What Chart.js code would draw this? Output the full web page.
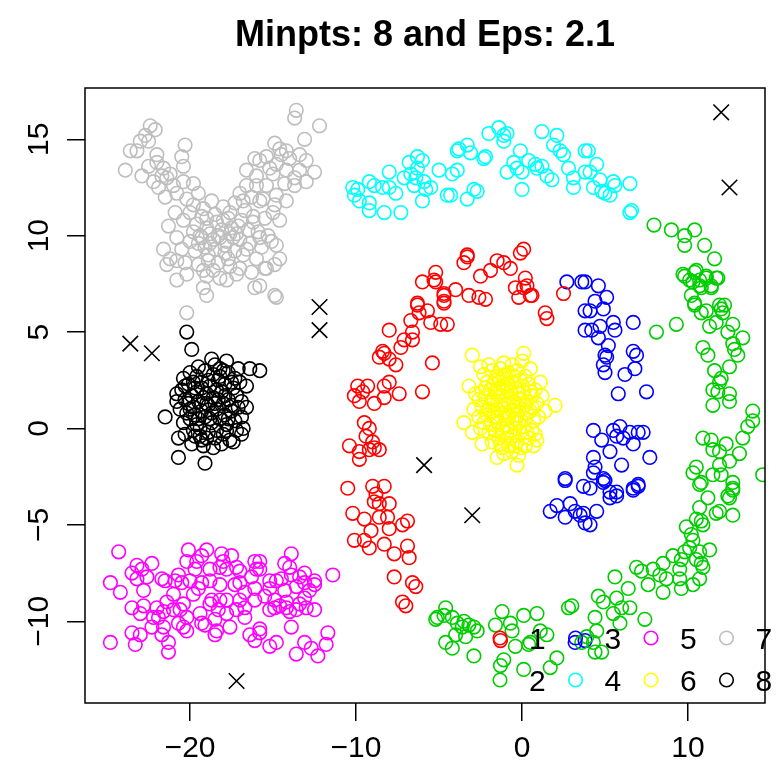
<!DOCTYPE html>
<html>
<head>
<meta charset="utf-8">
<script src="https://cdn.jsdelivr.net/npm/chart.js@4.4.1/dist/chart.umd.min.js"></script>
<style>
  html, body { margin: 0; padding: 0; background: #fff; }
  #wrap { width: 780px; height: 778px; }
</style>
</head>
<body>
<div id="wrap"><canvas id="Chart_0" width="780" height="778"></canvas></div>
<script>
"use strict";

// ---- data ----
const titleText = 'Minpts: 8 and Eps: 2.1';
const clusterNames = ['1', '2', '3', '4', '5', '6', '7', '8'];
const clusterColors = ['#FF0000', '#00CD00', '#0000FF', '#00FFFF', '#FF00FF', '#FFFF00', '#BEBEBE', '#000000'];
const xTicks = [-20, -10, 0, 10];
const xTickLabels = ['\u221220', '\u221210', '0', '10'];
const yTicks = [-10, -5, 0, 5, 10, 15];
const yTickLabels = ['\u221210', '\u22125', '0', '5', '10', '15'];

// noise points (cluster 0), drawn as crosses
const noise = [[12.0,16.4],[12.5,12.5],[-12.2,6.3],[-12.2,5.1],[-23.6,4.4],[-22.3,3.9],[-5.9,-1.9],[-3.0,-4.5],[-17.2,-13.1]];

// cluster 1 - red arc
const c1 = [[-3.3,9.0],[-3.5,8.6],[-1.5,8.7],[-1.1,8.6],[-0.7,8.3],[0.1,9.3],[-0.1,9.1],[-1.9,8.2],[-2.5,7.9],[-5.2,8.1],
  [-5.3,7.7],[-6.0,7.6],[0.2,7.8],[0.3,7.4],[-0.4,7.3],[0.5,6.9],[-3.2,6.9],[-2.6,6.8],[-2.2,6.7],[-4.7,7.0],
  [-4.7,6.6],[-6.3,6.5],[2.5,7.0],[-3.3,8.9],[-0.2,6.8],[0.6,6.9],[0.1,7.3],[1.4,6.0],[1.5,5.7],[-5.2,7.6],
  [-4.7,6.9],[-4.7,6.5],[-6.3,6.4],[-5.7,6.1],[-6.2,6.0],[-6.7,5.6],[-5.5,5.5],[-4.9,5.4],[-4.5,5.4],[-8.0,5.1],
  [-6.6,5.0],[-7.1,4.6],[-6.6,4.6],[-7.3,4.2],[-8.3,3.9],[-8.6,3.7],[-8.0,3.6],[-5.4,3.4],[-9.9,2.2],[-9.3,2.2],
  [-10.1,1.7],[-9.8,1.4],[-8.9,1.3],[-8.3,2.2],[-8.0,2.4],[-8.3,1.6],[-7.4,1.8],[-6.0,1.9],[-9.5,0.3],[-9.2,0.0],
  [-10.4,-0.9],[-9.8,-1.2],[-9.8,-1.6],[-9.0,-0.7],[-8.9,-1.0],[-8.6,-1.1],[-9.2,-1.1],[-10.5,-3.1],[-9.0,-3.0],[-8.3,-3.0],
  [-8.9,-3.8],[-8.6,-3.9],[-8.0,-3.9],[-10.2,-4.4],[-9.5,-4.7],[-8.6,-4.6],[-8.1,-4.6],[-8.0,-5.2],[-6.9,-4.8],[-7.2,-5.0],
  [-10.1,-5.8],[-9.5,-5.8],[-9.2,-6.2],[-8.3,-6.0],[-7.7,-6.5],[-6.9,-6.1],[-6.8,-6.7],[-7.7,-7.7],[-6.6,-8.0],[-6.4,-8.2],
  [-7.2,-9.0],[-7.0,-9.2],[-1.3,-11.0],[-8.4,4.0],[-7.6,3.3],[-9.6,1.9],[-9.4,-0.4],[-8.8,-3.4],[-9.1,-5.3],[-4.0,7.2]];

// cluster 2 - green outer arc
const c2 = [[7.95,10.55],[9.0,10.3],[9.8,10.0],[10.4,10.3],[9.8,9.5],[11.0,9.5],[9.8,7.9],[10.5,8.2],[10.1,7.7],[10.7,7.7],
  [11.1,7.8],[11.7,7.8],[11.4,7.4],[10.8,7.3],[10.4,6.5],[11.9,6.4],[12.2,6.4],[9.7,8.0],[10.4,8.1],[11.1,7.9],
  [11.8,7.8],[10.3,7.6],[10.7,7.4],[11.4,7.3],[10.4,6.4],[10.8,6.0],[11.1,6.1],[12.0,6.2],[12.1,6.0],[11.3,5.3],
  [11.7,5.5],[12.7,5.4],[13.3,4.7],[12.7,4.4],[12.8,4.1],[10.9,4.2],[11.2,3.8],[9.3,5.4],[8.1,5.0],[13.0,3.8],
  [12.5,3.2],[12.0,2.6],[11.9,2.4],[11.5,2.0],[11.8,1.9],[12.5,1.8],[12.5,1.4],[11.5,1.2],[13.9,0.9],[13.9,0.4],
  [13.6,0.1],[13.3,-0.5],[10.9,-0.5],[11.4,-0.6],[12.3,-0.8],[11.5,-1.1],[11.9,-1.2],[12.5,-1.7],[11.9,-1.9],[10.5,-2.0],
  [10.3,-2.3],[10.8,-2.8],[11.5,-2.4],[12.0,-2.4],[12.7,-2.8],[12.7,-3.2],[12.4,-3.5],[14.5,-2.4],[10.7,-2.9],[12.7,-3.1],
  [12.5,-3.6],[11.9,-4.3],[12.7,-4.5],[11.7,-4.4],[10.7,-4.1],[10.8,-4.8],[10.5,-4.7],[10.9,-5.0],[10.2,-5.5],[10.3,-5.8],
  [11.3,-6.3],[10.1,-6.2],[9.8,-6.4],[10.7,-6.4],[9.6,-6.8],[10.5,-6.8],[10.8,-7.0],[10.9,-7.2],[8.5,-7.0],[9.5,-7.3],
  [9.5,-7.8],[10.7,-7.8],[10.3,-8.1],[9.6,-8.3],[7.9,-7.3],[8.3,-7.6],[8.7,-7.8],[6.9,-7.2],[7.2,-7.4],[7.6,-8.1],
  [8.5,-8.5],[5.6,-7.7],[4.6,-8.7],[4.9,-9.0],[5.7,-8.8],[6.0,-9.3],[6.5,-9.3],[5.5,-9.6],[4.4,-9.8],[5.9,-10.1],
  [7.4,-9.9],[4.5,-10.5],[3.9,-10.8],[4.3,-11.1],[4.4,-11.6],[4.8,-11.6],[-4.6,-9.3],[-5.1,-9.8],[-5.2,-9.9],[-4.7,-9.7],
  [-4.2,-9.8],[-3.9,-10.1],[-3.6,-10.3],[-3.5,-10.0],[-3.2,-10.2],[-2.9,-10.3],[-2.7,-10.5],[-3.4,-10.8],[-4.6,-11.1],[-4.2,-11.4],
  [-2.9,-11.8],[-1.2,-9.5],[-1.6,-10.2],[-0.7,-10.1],[-0.6,-10.5],[0.1,-9.7],[0.9,-9.6],[-0.4,-11.3],[0.4,-11.2],[-1.1,-12.0],
  [0.1,-12.5],[1.1,-10.5],[1.5,-10.7],[1.7,-12.4],[2.1,-11.9],[2.8,-9.3],[3.0,-9.2],[3.6,-11.1],[0.5,-11.1],[-1.3,-12.3],
  [11.6,8.8],[10.2,6.9],[12.4,5.0],[11.6,3.0],[13.1,-1.3],[11.2,-3.6],[9.9,-5.1],[9.1,-6.6],[6.4,-8.3],[-4.0,-10.7]];

// cluster 3 - blue inner arc
const c3 = [[2.7,7.6],[3.6,7.6],[3.8,6.1],[3.8,5.1],[2.6,-2.6],[3.8,7.6],[4.6,7.4],[5.1,6.8],[4.1,6.1],[4.9,6.2],
  [4.2,5.1],[4.7,5.3],[5.5,5.5],[5.6,5.1],[4.6,4.7],[6.7,5.5],[5.0,3.8],[5.1,3.7],[4.9,3.3],[5.0,2.9],
  [6.7,4.0],[6.9,3.8],[6.8,3.1],[6.2,2.8],[5.8,1.8],[7.5,1.9],[4.3,-0.1],[5.5,-0.1],[5.7,-0.4],[6.1,-0.5],
  [6.5,-0.2],[7.0,-0.2],[7.3,-0.2],[6.7,-0.8],[5.3,-1.2],[4.3,-1.5],[6.0,-1.9],[7.7,-1.5],[4.3,-2.3],[4.9,-2.6],
  [5.0,-2.7],[4.1,-3.1],[5.3,-3.3],[5.7,-3.3],[6.7,-3.1],[7.0,-2.9],[4.9,-2.8],[5.3,-3.6],[5.7,-3.5],[6.7,-3.2],
  [7.0,-3.0],[4.5,-4.3],[4.1,-5.0],[3.7,-4.4],[1.7,-4.3],[2.1,-4.0],[2.6,-4.6],[2.9,-3.9],[3.2,-4.3],[3.5,-4.5],
  [3.8,-4.9],[2.6,-2.7],[3.2,-11.1],[3.7,-3.0],[3.8,-11.0],[4.4,-2.0],[4.8,-0.6],[5.9,0.1],[5.2,4.3],[4.4,6.6]];

// cluster 4 - cyan top arc
const c4 = [[-10.1,12.1],[-10.2,12.5],[-9.9,12.4],[-9.8,11.8],[-9.2,12.8],[-9.2,11.7],[-9.2,11.3],[-8.3,11.2],[-7.3,11.2],[-8.9,12.6],
  [-8.4,12.5],[-8.0,12.5],[-8.0,13.3],[-7.1,13.0],[-6.8,13.8],[-6.3,14.1],[-6.0,13.9],[-6.3,13.5],[-6.4,13.0],[-6.5,12.6],
  [-5.9,12.8],[-5.5,12.5],[-5.8,12.4],[-6.0,11.8],[-5.0,13.4],[-4.2,13.2],[-3.9,13.4],[-4.5,12.1],[-4.3,12.1],[-3.3,11.9],
  [-2.9,12.4],[-2.7,12.3],[-3.9,14.4],[-3.8,14.5],[-3.3,14.7],[-3.1,14.3],[-2.2,14.1],[-2.3,14.0],[-2.0,15.3],[-1.4,15.6],
  [-1.1,14.9],[-0.9,15.3],[-1.1,15.2],[-0.1,14.4],[-0.5,13.8],[-0.3,13.5],[-0.9,13.3],[0.0,13.3],[0.0,12.4],[0.4,13.9],
  [0.8,13.7],[0.9,13.5],[1.2,13.6],[1.5,13.1],[1.8,12.9],[1.2,15.4],[2.1,15.2],[1.9,14.7],[2.3,14.4],[2.5,14.2],
  [2.8,13.5],[3.1,13.0],[3.1,12.5],[3.8,14.4],[3.8,13.3],[4.0,14.4],[4.5,13.7],[4.1,13.3],[4.7,12.9],[4.3,12.5],
  [4.8,12.3],[5.3,12.1],[5.5,12.8],[5.6,12.6],[6.5,12.7],[6.6,11.3],[6.5,11.2],[5.0,12.2],[-7.6,12.2],[-6.7,13.2]];

// cluster 5 - magenta band
const c5 = [[-24.3,-6.4],[-24.8,-8.0],[-24.2,-8.5],[-24.8,-11.1],[-23.5,-7.5],[-23.2,-7.1],[-22.9,-7.3],[-22.3,-7.0],[-22.6,-7.7],[-23.2,-7.8],
  [-23.5,-9.3],[-22.8,-9.2],[-23.0,-9.6],[-22.0,-9.3],[-21.4,-9.0],[-21.6,-9.5],[-22.2,-9.8],[-22.3,-10.3],[-21.6,-10.3],[-21.7,-10.7],
  [-23.5,-10.6],[-23.3,-11.2],[-23.0,-10.7],[-21.3,-11.1],[-21.3,-11.6],[-21.5,-7.9],[-20.7,-7.6],[-20.5,-8.0],[-20.1,-6.3],[-20.2,-6.9],
  [-19.6,-6.9],[-19.3,-6.6],[-19.7,-7.3],[-20.0,-7.9],[-19.3,-8.0],[-19.8,-8.6],[-20.4,-9.1],[-20.6,-9.4],[-20.2,-9.8],[-20.4,-10.3],
  [-20.2,-10.5],[-19.4,-9.6],[-19.3,-10.1],[-18.8,-9.1],[-18.8,-7.3],[-18.2,-8.1],[-18.7,-8.9],[-18.5,-9.9],[-18.4,-10.5],[-18.5,-10.7],
  [-18.1,-6.5],[-18.0,-6.9],[-18.2,-7.2],[-17.8,-7.3],[-17.2,-7.2],[-17.3,-8.1],[-17.0,-8.0],[-16.7,-8.5],[-18.2,-8.9],[-17.8,-9.6],
  [-17.6,-10.3],[-16.7,-9.3],[-16.7,-9.8],[-16.3,-7.7],[-15.8,-6.9],[-15.8,-7.3],[-16.1,-8.3],[-16.1,-8.9],[-16.4,-10.7],[-15.8,-10.4],
  [-15.2,-11.3],[-14.8,-11.1],[-15.2,-8.3],[-14.9,-8.9],[-14.9,-9.3],[-14.6,-9.2],[-14.8,-7.9],[-14.3,-8.4],[-14.3,-7.0],[-14.0,-7.2],
  [-13.9,-6.5],[-13.9,-7.6],[-13.4,-7.7],[-13.1,-7.5],[-13.6,-8.2],[-13.1,-8.8],[-13.0,-9.3],[-12.5,-9.4],[-13.6,-9.4],[-14.0,-9.5],
  [-13.4,-9.1],[-12.5,-7.9],[-12.5,-8.1],[-11.4,-7.6],[-13.9,-10.3],[-13.1,-11.1],[-13.6,-11.7],[-12.7,-11.4],[-12.3,-11.8],[-11.7,-10.6],
  [-11.8,-11.2],[-18.8,-7.9],[-19.5,-8.3],[-18.3,-9.4],[-17.8,-8.9],[-17.2,-9.4],[-17.0,-8.9],[-16.0,-7.3],[-15.5,-8.7],[-15.2,-9.4],
  [-14.2,-9.3],[-20.7,-10.1],[-21.0,-9.4],[-21.9,-9.8],[-21.7,-7.8],[-20.9,-7.9],[-19.1,-10.2],[-16.1,-11.0],[-15.8,-10.6],[-16.1,-6.9],
  [-17.0,-7.4],[-15.2,-7.9],[-14.5,-7.8],[-14.2,-9.0],[-13.1,-8.0],[-12.8,-8.4],[-19.0,-6.3],[-17.5,-6.6],[-22.8,-8.4],[-21.0,-8.6]];

// cluster 6 - yellow blob
const c6 = [[-3.0,3.8],[0.1,3.9],[-2.5,3.2],[2.0,1.2],[-3.5,0.3],[-3.0,-0.2],[-0.3,-1.9],[1.1,2.4],[0.9,-0.6],[0.7,-0.9],
  [-2.9,1.0],[-2.4,-0.8],[-1.5,-1.5],
  [-2.3,2.8],[-1.8,3.0],[-1.3,3.1],[-0.8,2.9],[-0.3,3.0],[0.2,2.7],[-2.1,2.4],[-1.6,2.5],[-1.1,2.6],[-0.6,2.4],
  [-0.1,2.5],[0.4,2.3],[0.8,2.0],[-2.4,1.9],[-1.9,2.0],[-1.4,2.1],[-0.9,2.0],[-0.4,2.1],[0.1,1.9],[0.6,1.7],
  [-2.6,1.5],[-2.2,1.6],[-1.7,1.5],[-1.2,1.7],[-0.7,1.6],[-0.2,1.5],[0.3,1.4],[0.9,1.3],[-2.4,1.1],[-1.9,1.2],
  [-1.5,1.0],[-1.0,1.2],[-0.5,1.1],[0.0,1.0],[0.5,0.9],[-2.1,0.7],[-1.7,0.6],[-1.2,0.8],[-0.8,0.6],[-0.3,0.7],
  [0.2,0.5],[0.7,0.4],[-2.3,0.3],[-1.9,0.2],[-1.4,0.3],[-0.9,0.1],[-0.4,0.3],[0.1,0.1],[0.6,-0.1],[-2.0,-0.2],
  [-1.6,-0.3],[-1.1,-0.2],[-0.6,-0.4],[-0.1,-0.2],[0.4,-0.5],[-1.8,-0.7],[-1.3,-0.8],[-0.8,-0.9],[-0.3,-0.7],[0.2,-0.9],
  [-1.1,-1.3],[-0.6,-1.2],[-0.2,-1.4],[-1.0,0.5],[-0.6,0.9],[-1.3,1.4],[-0.2,1.8],[-0.9,2.3],[-1.6,1.9],[-0.4,0.0],
  [-1.4,-0.5],[-0.7,-0.1],[-1.1,2.2],[-0.5,1.4],[0.3,0.8],[-1.8,0.9],[-2.6,0.6],[-2.8,1.8],[1.0,0.6],[1.2,1.7],
  [-0.1,-1.0],[-1.5,2.7],[-0.6,3.3],[0.5,3.1],[-2.0,3.3],[0.8,-0.3],
  [-1.8,1.4],[-1.3,1.9],[-0.8,1.3],[-0.3,1.2],[0.2,1.2],[-1.5,0.6],[-0.9,0.7],[-0.4,0.5],[-1.2,0.0],[-0.2,0.3],
  [-1.7,2.3],[-1.0,2.8],[-0.5,2.7],[0.0,2.2],[0.5,1.9],[-2.0,1.0],[-1.6,-0.1],[-0.9,-0.5],[-0.4,-0.9],[0.3,-0.2],
  [-2.2,2.1],[-1.4,2.6],[-0.7,1.9],[0.6,1.1],[-1.2,-1.0],[-2.5,0.0],[1.4,0.9],[-3.2,2.2],[0.0,3.5],[-1.1,3.4]];

// cluster 7 - grey X shape
const c7 = [[-22.4,15.7],[-22.7,15.2],[-23.0,14.9],[-23.2,14.4],[-23.6,14.4],[-23.9,13.4],[-22.9,13.1],[-22.5,13.6],[-22.0,13.8],[-21.6,13.5],
  [-21.7,13.1],[-21.4,13.0],[-22.2,12.8],[-21.9,12.5],[-21.0,12.6],[-20.4,12.8],[-20.3,14.7],[-20.5,14.1],[-20.4,13.6],[-19.8,12.7],
  [-22.1,15.5],[-22.5,14.9],[-22.0,14.2],[-21.2,13.2],[-20.8,12.2],[-21.5,12.0],[-20.2,11.9],[-19.5,12.2],
  [-13.6,16.5],[-13.7,16.1],[-12.2,15.7],[-13.1,15.0],[-14.9,14.8],[-14.6,14.5],[-14.2,14.4],[-14.0,14.0],[-13.4,14.2],[-13.0,13.9],
  [-15.4,14.1],[-15.8,13.9],[-16.1,14.0],[-16.6,13.4],[-16.0,13.1],[-15.2,13.5],[-14.8,13.7],[-14.2,13.4],[-13.7,13.0],[-13.4,13.4],
  [-13.0,12.8],[-12.5,13.3],[-14.3,12.7],[-13.7,12.6],[-16.0,12.6],[-16.6,12.6],[-15.4,12.6],
  [-14.5,14.2],[-15.0,13.2],[-16.3,12.0],[-17.0,12.2],[-15.6,11.9],[-14.8,12.1],
  [-19.8,11.6],[-19.2,11.4],[-18.7,11.8],[-18.0,11.5],[-17.3,11.7],[-16.7,11.3],[-16.2,11.0],[-15.5,10.9],[-15.0,11.2],[-20.4,10.8],
  [-19.6,10.6],[-19.0,10.9],[-18.4,10.7],[-17.7,10.9],[-17.1,10.5],[-16.5,10.3],[-15.9,10.2],[-20.8,9.9],[-20.0,9.7],[-19.4,10.0],
  [-18.8,10.1],[-18.2,9.9],[-17.6,10.1],[-17.0,9.8],[-16.4,9.6],[-15.7,9.4],[-19.7,9.2],[-19.1,9.4],[-18.5,9.3],[-17.9,9.5],
  [-17.3,9.2],[-16.8,9.0],[-16.0,8.8],[-20.3,8.6],[-19.5,8.5],[-18.9,8.7],[-18.3,8.6],[-17.6,8.4],[-17.0,8.3],[-16.3,8.1],
  [-19.0,7.9],[-18.2,7.8],[-18.6,9.8],[-17.8,9.7],[-18.1,10.3],[-18.9,9.0],[-17.4,9.9],[-19.3,9.9],[-16.9,10.8],[-18.5,11.1],
  [-21.3,10.5],[-21.6,9.3],[-20.9,11.2],[-15.3,10.0],[-14.8,9.5],[-15.5,8.3],
  [-21.2,8.8],[-20.8,8.7],[-21.4,8.5],[-20.8,7.7],[-20.2,8.0],[-19.2,7.3],[-19.0,6.9],[-17.8,7.7],[-17.2,8.0],[-16.1,7.3],
  [-15.8,7.4],[-14.9,6.9],[-14.8,6.8],[-15.4,8.3],[-14.9,8.5],[-14.6,8.8],[-15.1,9.7],[-14.6,10.8],[-14.2,11.8],[-14.9,11.6],
  [-15.8,11.8],[-20.2,6.0],
  [-19.0,10.4],[-18.3,10.0],[-17.5,10.4],[-18.8,9.6],[-17.9,9.1],[-19.5,9.6],[-18.0,10.8],[-17.2,10.1],[-19.8,10.2],[-16.6,9.3],
  [-18.6,8.2],[-17.7,8.8],[-19.2,8.2],[-20.5,9.3],[-16.2,10.7],[-16.8,11.8],[-19.3,11.0],[-17.6,11.2],[-15.8,9.9],[-20.0,11.2]];

// cluster 8 - black blob
const c8 = [[-20.2,5.0],[-19.9,4.1],[-18.7,3.6],[-17.8,3.5],[-16.4,3.1],[-15.8,3.0],[-21.5,0.6],[-20.8,1.8],[-20.7,-1.5],[-19.1,-1.8],
  [-16.6,1.1],[-16.9,-0.3],
  [-20.4,2.6],[-20.0,2.9],[-19.6,2.7],[-19.1,3.0],[-18.6,2.8],[-18.2,3.1],[-17.7,2.9],[-17.3,2.6],[-20.5,2.0],[-20.1,2.3],
  [-19.7,2.1],[-19.3,2.4],[-18.8,2.2],[-18.3,2.5],[-17.9,2.3],[-17.4,2.1],[-17.0,2.4],[-20.3,1.5],[-19.9,1.7],[-19.5,1.4],
  [-19.0,1.8],[-18.6,1.6],[-18.1,1.9],[-17.7,1.5],[-17.2,1.7],[-16.9,1.4],[-20.6,1.0],[-20.2,0.8],[-19.8,1.1],[-19.3,0.9],
  [-18.9,1.2],[-18.4,1.0],[-18.0,1.3],[-17.5,0.9],[-17.1,1.1],[-20.4,0.3],[-20.0,0.5],[-19.6,0.2],[-19.1,0.6],[-18.7,0.3],
  [-18.2,0.5],[-17.8,0.2],[-17.3,0.4],[-16.9,0.6],[-20.3,-0.3],[-19.8,-0.1],[-19.4,-0.4],[-18.9,-0.2],[-18.5,-0.5],[-18.0,-0.3],
  [-17.6,-0.6],[-17.2,-0.1],[-19.9,-0.8],[-19.2,-0.9],[-18.6,-1.0],[-18.1,-0.8],[-19.6,1.9],[-18.4,2.0],[-19.0,1.3],[-18.7,0.8],
  [-19.4,0.0],[-17.9,0.7],[-18.3,1.5],[-19.8,2.4],[-17.5,1.2],[-18.9,2.5],[-20.1,1.3],[-19.3,-0.6],[-17.8,-0.1],[-18.5,3.3],
  [-19.5,3.2],[-17.1,3.1],[-20.8,1.4],[-16.8,0.0],[-16.6,2.2],[-20.7,-0.5],[-17.4,-0.7],[-19.7,0.7],
  [-19.2,1.6],[-18.5,1.3],[-18.8,0.5],[-19.5,0.5],[-17.9,1.7],[-18.2,2.7],[-19.3,2.1],[-17.7,0.5],[-20.0,1.0],[-18.4,-0.1],
  [-19.0,-0.5],[-17.5,2.4],[-20.3,2.2],[-18.0,3.0],[-19.7,-0.4]];

const clusters = [c1, c2, c3, c4, c5, c6, c7, c8];

// ---- R-like frame, title, tick labels and legend ----
const rFrame = {
  id: 'rFrame',
  afterDraw(chart) {
    const ctx = chart.ctx, a = chart.chartArea, sx = chart.scales.x, sy = chart.scales.y;
    const fam = '"Liberation Sans", Arial, Helvetica, sans-serif';
    ctx.save();
    ctx.strokeStyle = '#000'; ctx.lineWidth = 1.5;
    ctx.strokeRect(a.left, a.top, a.right - a.left, a.bottom - a.top);

    ctx.fillStyle = '#000';
    ctx.font = 'bold 36px ' + fam;
    ctx.textAlign = 'center'; ctx.textBaseline = 'alphabetic';
    ctx.fillText(titleText, (a.left + a.right) / 2, 46);

    ctx.font = '30px ' + fam;
    xTicks.forEach((v, i) => ctx.fillText(xTickLabels[i], sx.getPixelForValue(v), 757));
    yTicks.forEach((v, i) => {
      ctx.save();
      ctx.translate(48, sy.getPixelForValue(v));
      ctx.rotate(-Math.PI / 2);
      ctx.fillText(yTickLabels[i], 0, 0);
      ctx.restore();
    });

    // legend: 2 rows x 4 columns, bottom right
    ctx.textAlign = 'left';
    ctx.lineWidth = 1.6;
    clusterNames.forEach((name, i) => {
      const col = Math.floor(i / 2), row = i % 2;
      const cx = 500 + col * 75.5, cy = 638 + row * 42;
      ctx.strokeStyle = clusterColors[i];
      ctx.beginPath(); ctx.arc(cx, cy, 6.8, 0, Math.PI * 2); ctx.stroke();
      ctx.fillText(name, cx + 29, cy + 10.7);
    });
    ctx.restore();
  }
};

const datasets = clusters.map((pts, i) => ({
  label: clusterNames[i],
  data: pts.map(p => ({ x: p[0], y: p[1] })),
  pointStyle: 'circle',
  pointRadius: 6.8,
  pointHoverRadius: 6.8,
  borderWidth: 1.6,
  borderColor: clusterColors[i],
  backgroundColor: 'rgba(0,0,0,0)'
}));
datasets.unshift({
  label: '0',
  data: noise.map(p => ({ x: p[0], y: p[1] })),
  pointStyle: 'crossRot',
  pointRadius: 11,
  pointHoverRadius: 11,
  borderWidth: 1.6,
  borderColor: '#000',
  backgroundColor: '#000'
});

const axisCommon = {
  type: 'linear',
  ticks: { display: false },
  grid: { drawOnChartArea: false, drawTicks: true, tickLength: 18, color: '#000', lineWidth: 1.5 },
  border: { display: false }
};

let chart = new Chart(document.getElementById('Chart_0'), {
  type: 'scatter',
  data: { datasets: datasets },
  options: {
    responsive: false,
    animation: false,
    devicePixelRatio: 1,
    layout: { padding: { top: 88, right: 15, left: 0, bottom: 0 } },
    scales: {
      x: Object.assign({}, axisCommon, {
        min: -26.33, max: 14.64,
        afterBuildTicks: s => { s.ticks = xTicks.map(v => ({ value: v })); },
        afterFit: s => { s.height = 75; }
      }),
      y: Object.assign({}, axisCommon, {
        min: -14.24, max: 17.66,
        afterBuildTicks: s => { s.ticks = yTicks.map(v => ({ value: v })); },
        afterFit: s => { s.width = 85; }
      })
    },
    plugins: { legend: { display: false }, tooltip: { enabled: false }, title: { display: false } }
  },
  plugins: [rFrame]
});
</script>
</body>
</html>
